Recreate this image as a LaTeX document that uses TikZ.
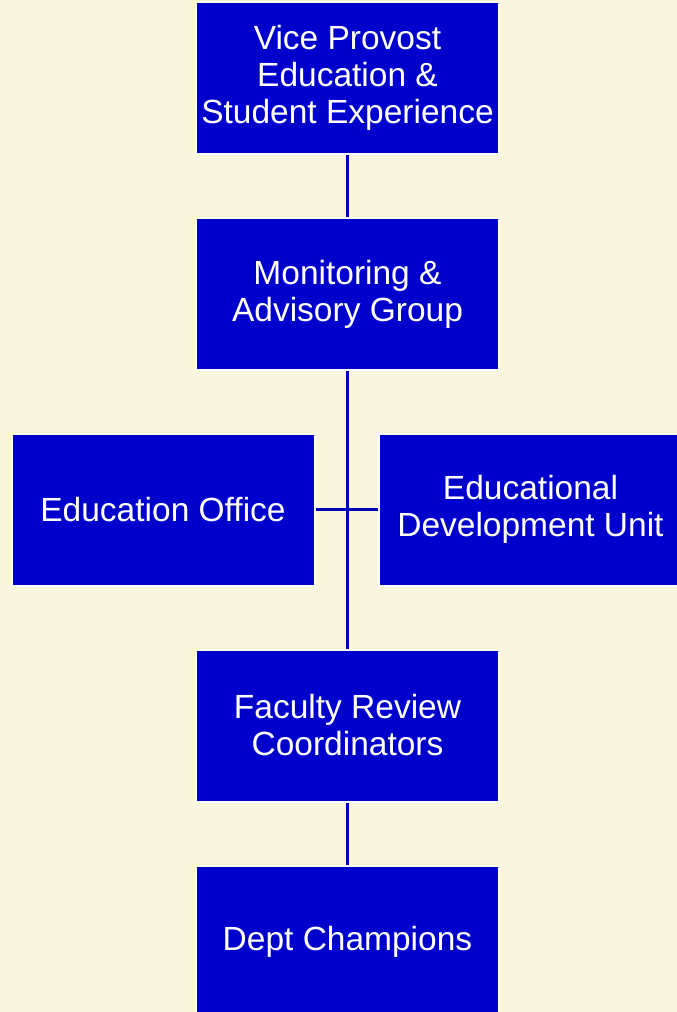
\documentclass[tikz,border=0pt]{standalone}
\usepackage{fontspec}
\setmainfont{Liberation Sans}
\usetikzlibrary{positioning}
\definecolor{boxblue}{HTML}{0000CC}
\definecolor{lineblue}{HTML}{0000B4}
\definecolor{cream}{HTML}{FAF5DD}

\begin{document}
\begin{tikzpicture}
    [x=1pt, y=-1pt,
      unit/.style={draw=white, line width=2pt, fill=boxblue, text=white,
        minimum width=303pt, minimum height=152pt, inner sep=0pt,
        align=center, font=\fontsize{33.5}{37}\selectfont},
      link/.style={draw=lineblue, line width=3pt}]
    \fill[cream] (0,0) rectangle (677,1012);
    \useasboundingbox (0,0) rectangle (677,1012);
    \node[unit] (vp) at (347.5,78) {Vice Provost\\Education \&\\Student Experience};
    \node[unit] (mag) at (347.5,294) {Monitoring \&\\Advisory Group};
    \node[unit] (eo) at (163,509.5) {Education Office};
    \node[unit] (edu) at (530.5,509.5) {Educational\\Development Unit};
    \node[unit] (frc) at (347.5,725.5) {Faculty Review\\Coordinators};
    \node[unit] (dc) at (347.5,942) {Dept Champions};
    \draw[link] (vp) -- (mag);
    \draw[link] (mag) -- (frc);
    \draw[link] (eo) -- (edu);
    \draw[link] (frc) -- (dc);
  \end{tikzpicture}
\end{document}
